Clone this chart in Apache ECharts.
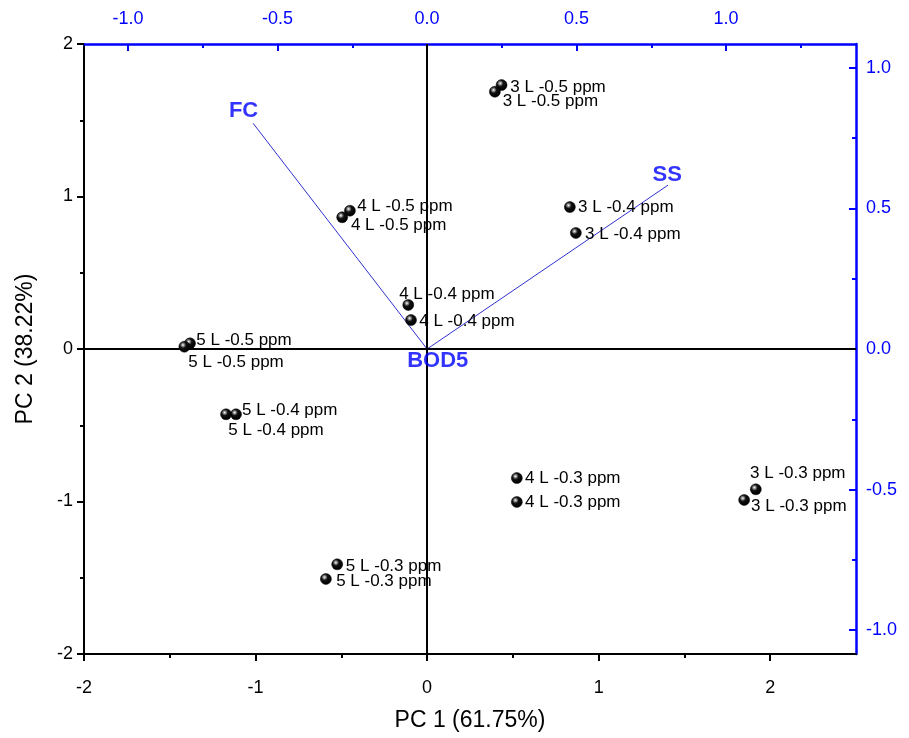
<!DOCTYPE html>
<html><head><meta charset="utf-8">
<script src="https://cdn.jsdelivr.net/npm/echarts@6/dist/echarts.min.js"></script>
<style>html,body{margin:0;padding:0;background:#fff}#c{width:909px;height:738px}</style>
</head><body><div id="c"></div>
<script>
// ---- data ----
const sampleNames = ['3 L -0.5 ppm','3 L -0.5 ppm','3 L -0.4 ppm','3 L -0.4 ppm','4 L -0.5 ppm','4 L -0.5 ppm',
  '4 L -0.4 ppm','4 L -0.4 ppm','5 L -0.5 ppm','5 L -0.5 ppm','5 L -0.4 ppm','5 L -0.4 ppm',
  '4 L -0.3 ppm','4 L -0.3 ppm','3 L -0.3 ppm','3 L -0.3 ppm','5 L -0.3 ppm','5 L -0.3 ppm'];
const pc1Scores = [0.434, 0.395, 0.832, 0.867, -0.450, -0.495, -0.110, -0.094, -1.382, -1.415, -1.114, -1.172,
  0.523, 0.523, 1.916, 1.848, -0.524, -0.590];
const pc2Scores = [1.731, 1.687, 0.931, 0.761, 0.907, 0.864, 0.289, 0.190, 0.037, 0.015, -0.428, -0.428,
  -0.846, -1.003, -0.920, -0.990, -1.412, -1.508];
const variableNames = ['FC', 'SS', 'BOD5'];
const pc1Loadings = [-0.582, 0.806, 0.002];
const pc2Loadings = [0.803, 0.583, -0.002];
const bottomTickValues = [-2, -1, 0, 1, 2];
const leftTickValues = [-2, -1, 0, 1, 2];
const topTickValues = [-1, -0.5, 0, 0.5, 1];
const rightTickValues = [-1, -0.5, 0, 0.5, 1];
const bottomMinorTicks = [-1.5, -0.5, 0.5, 1.5];
const leftMinorTicks = [-1.5, -0.5, 0.5, 1.5];
const topMinorTicks = [-0.75, -0.25, 0.25, 0.75, 1.25];
const rightMinorTicks = [-0.75, -0.25, 0.25, 0.75];

// ---- styling (label placement) ----
const labelOffsets = [[3,2],[2,10],[2.5,0],[3.5,1],[1.5,-4.7],[3,8.4],[-14.8,-11],[2.5,1.7],[0.5,-3.3],[-1.8,16],
  [0.2,-3.6],[-3.5,15.7],[2.5,0],[2.5,0],[-11.5,-16],[1.2,6.7],[2.9,1.7],[4.5,2.7]];
const varLabelOffsets = [[-9.5,-12.8],[-0.8,-10],[10,11]];

const BLUE = '#0000ff';
const FONT = 'Liberation Sans, Arial, sans-serif';
const chart = echarts.init(document.getElementById('c'), null, {renderer: 'canvas'});

const sphere = {
  type: 'radial', x: 0.38, y: 0.35, r: 0.6,
  colorStops: [{offset: 0, color: '#ffffff'}, {offset: 0.18, color: '#9a9a9a'}, {offset: 0.45, color: '#111'}, {offset: 1, color: '#000'}]
};

function mainAxis(extra) {
  return Object.assign({
    type: 'value', gridIndex: 0, splitLine: {show: false}, scale: false
  }, extra);
}

const xAxes = [
  mainAxis({position: 'bottom', min: -2, max: 2.5,
    axisLine: {show: true, onZero: false, lineStyle: {color: '#000', width: 2}},
    axisTick: {show: true, inside: false, length: 7, customValues: bottomTickValues, lineStyle: {color: '#000', width: 2}},
    axisLabel: {show: true, customValues: bottomTickValues, margin: 25, fontSize: 18, color: '#000', fontFamily: FONT},
    name: 'PC 1 (61.75%)', nameLocation: 'middle', nameGap: 55,
    nameTextStyle: {fontSize: 23, color: '#000', fontFamily: FONT}
  }),
  mainAxis({position: 'top', min: -1.1475, max: 1.4345,
    axisLine: {show: true, onZero: false, lineStyle: {color: BLUE, width: 2.5}},
    axisTick: {show: true, inside: true, length: 7, customValues: topTickValues, lineStyle: {color: BLUE, width: 2}},
    axisLabel: {show: true, customValues: topTickValues, margin: 16, fontSize: 18, color: BLUE, fontFamily: FONT,
      formatter: v => v.toFixed(1)}
  }),
  mainAxis({position: 'top', min: -1.1475, max: 1.4345,
    axisLine: {show: false, onZero: false},
    axisTick: {show: true, inside: true, length: 4, customValues: topMinorTicks, lineStyle: {color: BLUE, width: 2}},
    axisLabel: {show: false}
  }),
  mainAxis({position: 'bottom', min: -2, max: 2.5,
    axisLine: {show: false, onZero: false},
    axisTick: {show: true, inside: false, length: 4, customValues: bottomMinorTicks, lineStyle: {color: '#000', width: 2}},
    axisLabel: {show: false}
  })
];

const yAxes = [
  mainAxis({position: 'left', min: -2, max: 2,
    axisLine: {show: true, onZero: false, lineStyle: {color: '#000', width: 2}},
    axisTick: {show: true, inside: false, length: 7, customValues: leftTickValues, lineStyle: {color: '#000', width: 2}},
    axisLabel: {show: true, customValues: leftTickValues, margin: 11, fontSize: 18, color: '#000', fontFamily: FONT},
    name: 'PC 2 (38.22%)', nameLocation: 'middle', nameGap: 47, nameRotate: 90,
    nameTextStyle: {fontSize: 23, color: '#000', fontFamily: FONT}
  }),
  mainAxis({position: 'right', min: -1.085, max: 1.085,
    axisLine: {show: true, onZero: false, lineStyle: {color: BLUE, width: 2.5}},
    axisTick: {show: true, inside: true, length: 7, customValues: rightTickValues, lineStyle: {color: BLUE, width: 2}},
    axisLabel: {show: true, customValues: rightTickValues, margin: 10, fontSize: 18, color: BLUE, fontFamily: FONT,
      formatter: v => v.toFixed(1)}
  }),
  mainAxis({position: 'right', min: -1.085, max: 1.085,
    axisLine: {show: false, onZero: false},
    axisTick: {show: true, inside: true, length: 4, customValues: rightMinorTicks, lineStyle: {color: BLUE, width: 2}},
    axisLabel: {show: false}
  }),
  mainAxis({position: 'left', min: -2, max: 2,
    axisLine: {show: false, onZero: false},
    axisTick: {show: true, inside: false, length: 4, customValues: leftMinorTicks, lineStyle: {color: '#000', width: 2}},
    axisLabel: {show: false}
  })
];

const series = [];
// zero lines
series.push({
  type: 'scatter', xAxisIndex: 0, yAxisIndex: 0, data: [], silent: true, z: 1,
  markLine: {silent: true, symbol: ['none', 'none'], label: {show: false},
    lineStyle: {color: '#000', width: 2, type: 'solid'},
    data: [{xAxis: 0}, {yAxis: 0}]}
});
// loading vectors
variableNames.forEach((n, i) => {
  series.push({
    type: 'line', xAxisIndex: 1, yAxisIndex: 1, symbol: 'none', silent: true, z: 2,
    lineStyle: {color: '#3030d0', width: 1},
    data: [[0, 0], [pc1Loadings[i], pc2Loadings[i]]]
  });
});
series.push({
  type: 'scatter', xAxisIndex: 1, yAxisIndex: 1, symbolSize: 0, silent: true, z: 5,
  data: variableNames.map((n, i) => ({
    value: [pc1Loadings[i], pc2Loadings[i]], name: n,
    label: {show: true, position: 'inside', offset: varLabelOffsets[i], formatter: n,
      color: BLUE, fontWeight: 'bold', fontSize: 22, fontFamily: FONT}
  }))
});
// scores
series.push({
  type: 'scatter', xAxisIndex: 0, yAxisIndex: 0, symbol: 'circle', symbolSize: 11, z: 6,
  itemStyle: {color: sphere, borderColor: '#000', borderWidth: 0.5, opacity: 1},
  data: sampleNames.map((n, i) => ({
    value: [pc1Scores[i], pc2Scores[i]], name: n,
    label: {show: true, position: 'right', distance: 0, offset: labelOffsets[i], formatter: n,
      color: '#000', fontSize: 17, fontFamily: FONT}
  }))
});

chart.setOption({
  backgroundColor: '#fff',
  animation: false,
  grid: {left: 84, right: 53, top: 44, bottom: 84, containLabel: false, outerBoundsMode: 'none'},
  xAxis: xAxes,
  yAxis: yAxes,
  series: series
});
</script>
</body></html>
